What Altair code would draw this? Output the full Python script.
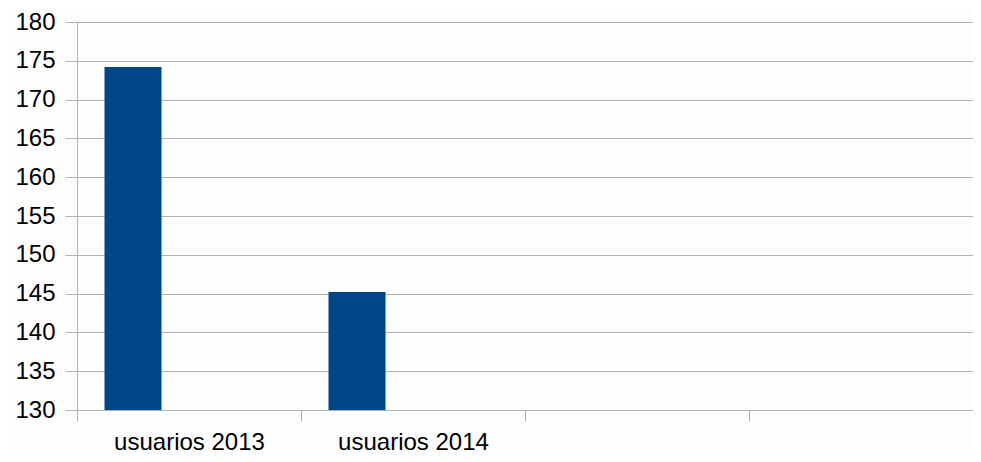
import altair as alt
import pandas as pd

categories = ["usuarios 2013", "usuarios 2014", " ", "  "]
bar_categories = ["usuarios 2013", "usuarios 2014"]
values = [174.2, 145.2]

df = pd.DataFrame({"cat": bar_categories, "val": values})

FONT = "Liberation Sans"
GRID = "#b3b3b3"

chart = alt.Chart(df).mark_bar(
    color="#004586", width=57, xOffset=-56, clip=True
).encode(
    x=alt.X(
        "cat:N",
        sort=categories,
        scale=alt.Scale(domain=categories, paddingInner=0, paddingOuter=0),
        axis=alt.Axis(
            title=None,
            labelAngle=0,
            labelFont=FONT,
            labelFontSize=24,
            labelColor="#000000",
            labelPadding=9,
            tickBand="extent",
            tickSize=11,
            tickColor=GRID,
            tickWidth=1,
            grid=False,
            domain=False,
        ),
    ),
    y=alt.Y(
        "val:Q",
        scale=alt.Scale(domain=[130, 180], nice=False, zero=False),
        axis=alt.Axis(
            title=None,
            values=list(range(130, 181, 5)),
            labelFont=FONT,
            labelFontSize=24,
            labelColor="#000000",
            labelPadding=10,
            tickSize=12,
            tickColor=GRID,
            tickWidth=1,
            gridColor=GRID,
            gridWidth=1,
            domainColor=GRID,
            domainWidth=1,
        ),
    ),
).properties(
    width=896,
    height=388,
    autosize=alt.AutoSizeParams(type="none"),
    padding={"left": 69, "top": 14, "right": 0, "bottom": 44},
).configure_view(
    stroke=None
).configure(
    background="#fdfdfd"
)

chart.save("out.html", embed_options={"renderer": "svg", "actions": False})
